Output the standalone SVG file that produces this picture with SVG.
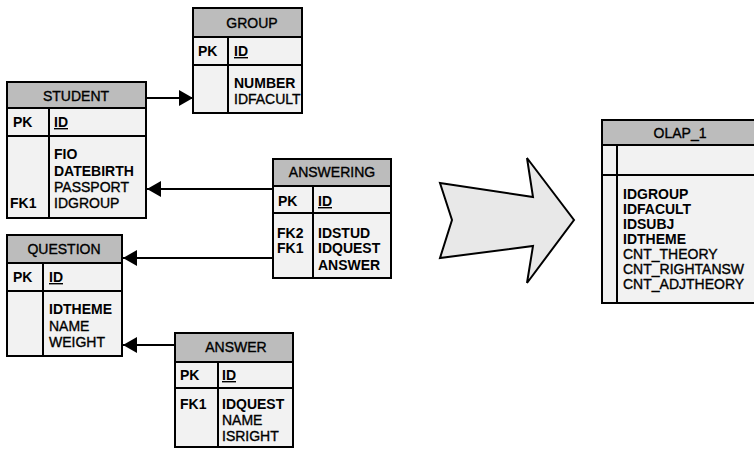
<svg xmlns="http://www.w3.org/2000/svg" width="754" height="451" viewBox="0 0 754 451">
<style>
.box{fill:#f2f2f2;stroke:#000;stroke-width:2}
.hdr{fill:#bcbcbc;stroke:#000;stroke-width:2}
.ln{stroke:#000;stroke-width:2;fill:none}
text{font-family:"Liberation Sans",Arial,sans-serif;font-size:14px;fill:#000;stroke:#000;stroke-width:0.35}
.b{font-weight:bold;stroke-width:0}
.h{text-anchor:middle}
.u{font-weight:bold;text-decoration:underline;stroke-width:0}
.con{stroke:#000;stroke-width:2;fill:none;marker-end:url(#ah)}
</style>
<defs>
<marker id="ah" markerUnits="userSpaceOnUse" markerWidth="14" markerHeight="16" refX="14" refY="8" orient="auto">
<path d="M0,0 L14,8 L0,16 z" fill="#000"/>
</marker>
</defs>
<rect width="754" height="451" fill="#fff"/>

<g id="connectors">
<path class="con" d="M146,98 L193,98"/>
<path class="con" d="M273,189 L147,189"/>
<path class="con" d="M273,258 L123,258"/>
<path class="con" d="M175,345 L123,345"/>
</g>

<g id="GROUP">
<rect class="box" x="193" y="8" width="109" height="105"/>
<rect class="hdr" x="193" y="8" width="109" height="29"/>
<path class="ln" d="M193,65 H302 M228,37 V113"/>
<text class="h" x="252" y="28">GROUP</text>
<text class="b" x="198" y="56">PK</text>
<text class="u" x="234" y="56">ID</text>
<text class="b" x="234" y="88">NUMBER</text>
<text x="234" y="104">IDFACULT</text>
</g>

<g id="STUDENT">
<rect class="box" x="7" y="82" width="139" height="136"/>
<rect class="hdr" x="7" y="82" width="139" height="26"/>
<path class="ln" d="M7,136 H146 M49,108 V218"/>
<text class="h" x="76" y="101">STUDENT</text>
<text class="b" x="13" y="127">PK</text>
<text class="u" x="54" y="127">ID</text>
<text class="b" x="54" y="159">FIO</text>
<text class="b" x="54" y="176">DATEBIRTH</text>
<text x="54" y="192">PASSPORT</text>
<text x="54" y="208">IDGROUP</text>
<text class="b" x="10" y="208">FK1</text>
</g>

<g id="ANSWERING">
<rect class="box" x="273" y="159" width="118" height="119"/>
<rect class="hdr" x="273" y="159" width="118" height="27"/>
<path class="ln" d="M273,213 H391 M313,186 V278"/>
<text class="h" x="332" y="177">ANSWERING</text>
<text class="b" x="278" y="206">PK</text>
<text class="u" x="318" y="206">ID</text>
<text class="b" x="277" y="238">FK2</text>
<text class="b" x="277" y="253">FK1</text>
<text class="b" x="318" y="238">IDSTUD</text>
<text class="b" x="318" y="253">IDQUEST</text>
<text class="b" x="318" y="270">ANSWER</text>
</g>

<g id="QUESTION">
<rect class="box" x="7" y="235" width="115" height="121"/>
<rect class="hdr" x="7" y="235" width="115" height="28"/>
<path class="ln" d="M7,291 H122 M43,263 V356"/>
<text class="h" x="64" y="254">QUESTION</text>
<text class="b" x="13" y="282">PK</text>
<text class="u" x="49" y="282">ID</text>
<text class="b" x="49" y="314">IDTHEME</text>
<text x="49" y="331">NAME</text>
<text x="49" y="347">WEIGHT</text>
</g>

<g id="ANSWER">
<rect class="box" x="175" y="333" width="118" height="114"/>
<rect class="hdr" x="175" y="333" width="118" height="29"/>
<path class="ln" d="M175,388 H293 M218,362 V447"/>
<text class="h" x="236" y="352">ANSWER</text>
<text class="b" x="180" y="380">PK</text>
<text class="u" x="222" y="380">ID</text>
<text class="b" x="180" y="409">FK1</text>
<text class="b" x="222" y="409">IDQUEST</text>
<text x="222" y="425">NAME</text>
<text x="222" y="441">ISRIGHT</text>
</g>

<g id="BIGARROW">
<polygon points="440,183 533,197 527,158 574,220 527,283 533,246 440,258 452,220" fill="#e8e8e8" stroke="#000" stroke-width="2" stroke-linejoin="miter"/>
</g>

<g id="OLAP_1">
<rect class="box" x="602" y="120" width="160" height="183"/>
<rect class="hdr" x="602" y="120" width="160" height="25"/>
<path class="ln" d="M602,175 H762 M617,145 V303"/>
<text class="h" x="680" y="138">OLAP_1</text>
<text class="b" x="623" y="199">IDGROUP</text>
<text class="b" x="623" y="214">IDFACULT</text>
<text class="b" x="623" y="229">IDSUBJ</text>
<text class="b" x="623" y="244">IDTHEME</text>
<text x="623" y="259">CNT_THEORY</text>
<text x="623" y="274">CNT_RIGHTANSW</text>
<text x="623" y="289">CNT_ADJTHEORY</text>
</g>
</svg>
